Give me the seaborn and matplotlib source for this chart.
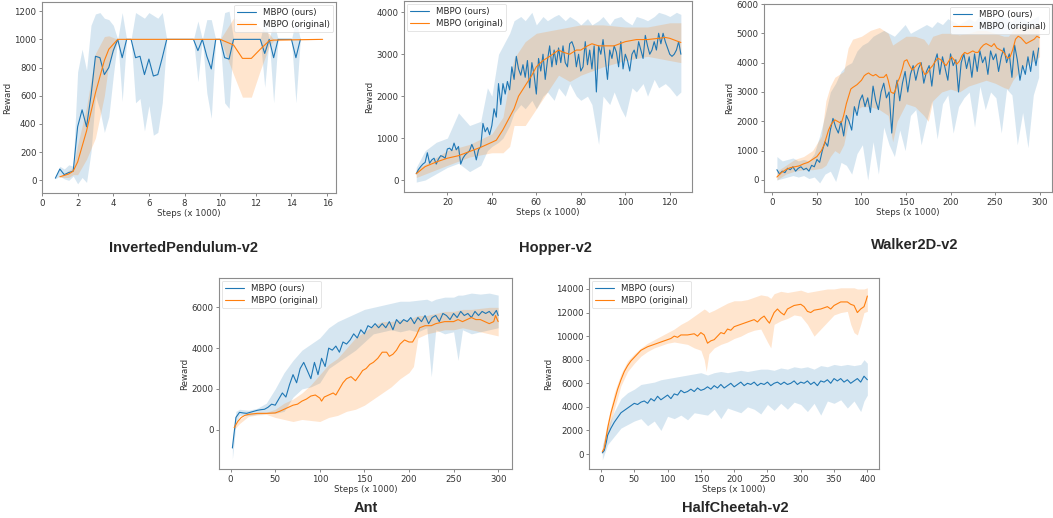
import numpy as np
import pandas as pd
import matplotlib
matplotlib.use("Agg")
import matplotlib.pyplot as plt
import seaborn as sns

# -----------------------------
# data
# -----------------------------
# InvertedPendulum-v2
ip_ours_x = [0.75, 1.0, 1.25, 1.5, 1.75, 2.0, 2.25, 2.5, 2.75, 3.0, 3.25, 3.5, 3.75, 4.0, 4.25, 4.5, 4.75,
             5.0, 5.25, 5.5, 5.75, 6.0, 6.25, 6.5, 6.75, 7.0, 8.5, 8.75, 9.0, 9.25, 9.5, 9.75, 10.0,
             10.25, 10.5, 10.75, 12.25, 12.5, 12.75, 13.0, 13.25, 14.0, 14.25, 14.5]
ip_ours_y = [15, 80, 40, 55, 65, 380, 500, 380, 600, 880, 870, 750, 800, 920, 1000, 870, 1000,
             1000, 870, 880, 750, 860, 740, 750, 870, 1000, 1000, 920, 1000, 880, 790, 1000, 1000,
             870, 860, 1000, 1000, 900, 1000, 870, 1000, 1000, 870, 1000]
ip_ours_lo = [10, 30, 10, 0, 30, -25, 20, -15, 200, 600, 500, 340, 450, 740, 1000, 560, 1000,
              1000, 550, 580, 350, 530, 320, 340, 550, 1000, 1000, 700, 1000, 620, 440, 1000, 1000,
              550, 510, 1000, 1000, 660, 1000, 550, 1000, 1000, 550, 1000]
ip_ours_hi = [20, 100, 80, 110, 100, 770, 930, 780, 1100, 1180, 1190, 1150, 1140, 1100, 1000, 1190, 1000,
              1000, 1190, 1170, 1150, 1190, 1170, 1150, 1190, 1000, 1000, 1130, 1000, 1140, 1140, 1000, 1000,
              1190, 1200, 1000, 1000, 1140, 1000, 1130, 1000, 1000, 1140, 1000]
ip_orig_x = [1.0, 1.5, 1.75, 2.0, 2.5, 3.0, 3.5, 3.75, 4.25, 10.0, 10.75, 11.25, 11.75, 12.25, 12.75, 13.0, 15.75]
ip_orig_y = [25, 45, 65, 130, 350, 620, 850, 930, 1000, 1000, 960, 865, 865, 930, 990, 995, 1000]
ip_orig_lo = [20, 20, 40, 40, 150, 300, 600, 830, 1000, 1000, 750, 590, 590, 780, 950, 990, 1000]
ip_orig_hi = [30, 70, 90, 250, 520, 900, 1020, 1025, 1000, 1000, 1150, 1130, 1130, 1080, 1040, 1000, 1000]

# Hopper-v2 (ours logged every 1k steps from 6k to 125k)
hop_ours_x = list(range(6, 126))
hop_ours_y = [150, 250, 320, 380, 420, 650, 400, 480, 520, 380, 500, 580, 560, 520, 740, 760, 700, 880, 720, 800,
              380, 520, 600, 650, 700, 850, 720, 480, 720, 800, 1350, 1150, 1250, 1080, 1300, 1700, 1500, 2300, 1800, 2300,
              2050, 2350, 2150, 2700, 2400, 2950, 2650, 2500, 2750, 2450, 2850, 2200, 2800, 2500, 2050, 2900, 2600, 3000, 2400, 2850,
              3200, 2700, 3100, 2750, 3150, 2800, 3200, 2800, 2700, 3250, 3300, 3150, 2700, 3000, 2600, 2700, 3300, 2750, 3100, 2650,
              3200, 2100, 3200, 3000, 3350, 2900, 2400, 3100, 2900, 3200, 3050, 2700, 3300, 2650, 3000, 2850, 2600, 3000, 3100, 2900,
              3300, 3100, 2900, 3450, 3200, 3000, 3100, 3300, 3100, 3500, 3250, 3500, 3300, 3150, 3000, 2950, 3000, 3100, 3300, 3000]
hop_ours_bx = [6, 10, 15, 20, 25, 30, 35, 38, 40, 43, 45, 48, 50, 53, 55, 58, 60, 63, 65, 68, 70, 73, 75, 78, 80,
               83, 85, 88, 90, 93, 95, 98, 100, 103, 105, 108, 110, 113, 115, 118, 120, 123, 125]
hop_ours_lo = [-50, 0, 150, 300, 400, 200, 350, 700, 800, 900, 1000, 1300, 1600, 1800, 1700, 1900, 1700, 2000, 2100, 1900,
               2200, 2000, 2300, 2000, 1900, 2000, 1800, 850, 2000, 1800, 2100, 1700, 1500, 2200, 2100, 2300, 2000, 2400,
               2200, 2300, 2200, 2000, 2100]
hop_ours_hi = [300, 700, 900, 1000, 1600, 1300, 1400, 2200, 2000, 3000, 3200, 3500, 3800, 3900, 3800, 4000, 3700, 3900,
               3800, 3900, 3950, 3800, 3900, 3800, 3700, 3850, 3700, 3800, 3900, 3700, 3850, 3900, 3800, 3700, 3900, 3850,
               3800, 3900, 4000, 3950, 3900, 4000, 3950]
hop_orig_x = [6, 10, 15, 20, 25, 30, 35, 40, 42, 45, 48, 50, 52, 55, 58, 60, 63, 66, 70, 72, 75, 78, 80, 83, 85,
              88, 90, 95, 100, 105, 110, 115, 118, 120, 125]
hop_orig_y = [150, 320, 430, 520, 580, 680, 780, 900, 950, 1200, 1500, 1700, 2000, 2250, 2500, 2700, 2850, 2950, 3100,
              3050, 3000, 3100, 3100, 3200, 3250, 3200, 3200, 3200, 3300, 3350, 3350, 3380, 3400, 3380, 3280]
hop_orig_bx = [6, 20, 30, 40, 45, 48, 50, 55, 60, 65, 70, 75, 80, 90, 100, 110, 120, 125]
hop_orig_lo = [60, 350, 550, 650, 650, 800, 1300, 1300, 1700, 2100, 2500, 2350, 2500, 2700, 2850, 2950, 2850, 2800]
hop_orig_hi = [250, 700, 850, 1100, 1500, 2400, 2900, 3300, 3500, 3550, 3600, 3650, 3700, 3700, 3650, 3650, 3750, 3750]

# Walker2D-v2
wk_ours_x = list(range(5, 300, 3))
wk_ours_y = [350, 200, 300, 250, 400, 350, 450, 300, 400, 450, 350, 400, 300, 500, 450, 700, 600, 1000, 1300, 1150,
             1700, 2100, 1800, 1600, 2000, 1500, 2200, 2000, 1700, 2500, 2200, 2700, 2900, 2500, 2800, 2300, 3200, 2700,
             2400, 3000, 3300, 2800, 3000, 1600, 2900, 3400, 2700, 3300, 3700, 3000, 3600, 3900, 3400, 3800, 4000, 3300,
             3700, 3900, 3200, 4000, 4300, 3600, 4200, 3800, 3400, 4300, 3900, 4100, 3000, 4000, 4300, 3800, 4200, 3500,
             4300, 3700, 4400, 4000, 4200, 3600, 4400, 4100, 4300, 3700, 4200, 4500, 4000, 4300, 3500, 4600, 4100, 3400,
             3900, 3600, 4200, 3700, 4400, 3900, 4500]
wk_ours_bx = list(range(5, 300, 6))
wk_ours_lo = [0, 50, 100, 150, 100, 150, 50, 100, -100, 200, 300, -50, 600, 500, 200, 900, 1200, 0, 1300, 200, 1800,
              1200, 800, 1700, 1000, 2200, 2400, 1200, 2000, 2700, 1400, 2600, 2900, 1600, 2500, 2800, 3000, 1800, 3200,
              2400, 3000, 2800, 1600, 3100, 2900, 1200, 2300, 1100, 2900, 3500]
wk_ours_hi = [800, 650, 700, 750, 650, 700, 650, 900, 1500, 2200, 3000, 3300, 3700, 3900, 4000, 4400, 4600, 4700, 4900,
              5000, 5100, 5000, 4900, 5100, 5300, 5000, 5100, 5200, 5300, 5200, 5400, 5300, 5500, 5400, 5300, 5400, 5500,
              5400, 5600, 5500, 5400, 5500, 5600, 5500, 5400, 5700, 5500, 5400, 5500, 5600]
wk_orig_x = [5, 10, 15, 20, 25, 30, 35, 40, 45, 50, 55, 58, 60, 63, 66, 70, 73, 76, 78, 80, 83, 86, 88, 90, 95, 100,
             103, 105, 108, 110, 113, 116, 120, 125, 128, 130, 133, 136, 138, 140, 143, 146, 148, 151, 154, 157, 160,
             163, 166, 168, 171, 174, 177, 180, 183, 186, 189, 192, 195, 198, 201, 204, 207, 210, 213, 216, 219, 222,
             225, 228, 231, 234, 237, 240, 243, 246, 249, 252, 255, 258, 261, 264, 267, 270, 273, 276, 279, 282, 285,
             288, 291, 294, 297, 300]
wk_orig_y = [100, 250, 350, 420, 450, 480, 550, 600, 700, 800, 1000, 1200, 1400, 1700, 1900, 2050, 2000, 1950, 2000,
             2200, 2600, 2900, 3100, 3150, 3250, 3400, 3550, 3600, 3650, 3600, 3550, 3600, 3500, 3500, 3600, 3400, 3000,
             2950, 3050, 3300, 3500, 3800, 4050, 4100, 3900, 3750, 3850, 3950, 4000, 3800, 3600, 3650, 3800, 3900, 4050,
             4150, 4100, 4000, 3900, 4050, 4200, 4100, 3950, 4050, 4250, 4350, 4300, 4350, 4400, 4350, 4350, 4500, 4600,
             4650, 4600, 4550, 4650, 4500, 4450, 4400, 4300, 4150, 4200, 4450, 4800, 4900, 4850, 4750, 4650, 4700, 4750,
             4800, 4900, 4850]
wk_orig_bx = [5, 15, 25, 35, 45, 55, 60, 65, 70, 75, 80, 85, 90, 100, 110, 120, 130, 135, 140, 150, 160, 170, 175,
              180, 190, 200, 210, 220, 230, 240, 250, 260, 265, 270, 280, 290, 300]
wk_orig_lo = [0, 200, 300, 350, 350, 400, 500, 800, 1000, 900, 1200, 1900, 2300, 2500, 2500, 2400, 2200, 1300, 2000,
              2600, 2500, 2200, 2000, 2700, 3000, 3100, 3000, 3200, 3300, 3400, 3300, 3150, 3100, 3400, 3800, 4000, 4200]
wk_orig_hi = [300, 500, 700, 800, 1000, 1500, 2700, 3200, 3500, 3600, 3700, 4500, 4800, 4900, 5100, 5200, 5000, 4600,
              4700, 4900, 4900, 4800, 4600, 4900, 5000, 5000, 4950, 5000, 5100, 5100, 5000, 4900, 4900, 5100, 5300, 5200, 5300]

# Ant
ant_ours_x = [2] + list(range(6, 300, 4)) + [300]
ant_ours_y = [-900, 600, 850, 820, 800, 850, 900, 950, 980, 1000, 1100, 1250, 1200, 1500, 1800, 1600, 2200, 2700, 2300,
              3000, 3300, 2900, 2500, 3300, 2700, 3500, 3100, 4000, 3900, 4100, 3800, 4300, 4200, 4400, 4700, 4500, 4900,
              4700, 5100, 5000, 5200, 5000, 5200, 5000, 5300, 4900, 5400, 5200, 5400, 5300, 5500, 5200, 5500, 5300, 5600,
              5200, 5500, 5600, 5300, 5700, 5600, 5400, 5700, 5500, 5800, 5600, 5700, 5500, 5800, 5600, 5800, 5700, 5800,
              5600, 5850, 5600]
ant_ours_bx = [2, 6, 10, 20, 30, 40, 50, 60, 70, 80, 90, 100, 110, 120, 130, 140, 150, 160, 170, 180, 190, 200, 210,
               220, 225, 230, 240, 250, 255, 260, 270, 280, 290, 300]
ant_ours_lo = [-1450, 300, 700, 700, 750, 800, 800, 900, 1600, 2000, 2100, 2300, 3000, 3300, 3600, 3900, 4300, 4700,
               4800, 4900, 4800, 4900, 4800, 5000, 2600, 4900, 4700, 4800, 3400, 4900, 4700, 4800, 4900, 5000]
ant_ours_hi = [-500, 900, 1000, 950, 1050, 1300, 2000, 2800, 3400, 3900, 4200, 4500, 5000, 5300, 5500, 5700, 5900, 6000,
               6100, 6200, 6300, 6300, 6350, 6400, 6300, 6400, 6500, 6500, 6600, 6600, 6700, 6650, 6700, 6600]
ant_orig_x = [4, 8, 12, 16, 20, 30, 40, 50, 55, 60, 65, 70, 75, 80, 85, 90, 95, 100, 102, 105, 110, 115, 118, 122, 126,
              130, 135, 140, 145, 148, 152, 156, 160, 165, 170, 175, 178, 182, 186, 190, 195, 200, 204, 208, 212, 218,
              225, 230, 240, 250, 255, 260, 265, 270, 275, 280, 285, 290, 295, 297, 300]
ant_orig_y = [100, 400, 600, 700, 750, 800, 800, 820, 900, 1000, 1100, 1200, 1250, 1400, 1500, 1650, 1700, 1550, 1400,
              1600, 1700, 1800, 1700, 2000, 2300, 2500, 2600, 2400, 2700, 2900, 3000, 3200, 3300, 3500, 3800, 3800, 3600,
              3700, 3900, 4200, 4400, 4300, 4300, 4600, 5000, 5100, 5100, 5200, 5300, 5300, 5400, 5300, 5400, 5500, 5400,
              5400, 5300, 5200, 5300, 5600, 5300]
ant_orig_bx = [4, 10, 20, 30, 40, 50, 60, 70, 80, 90, 100, 110, 120, 130, 140, 150, 160, 170, 180, 190, 200, 205, 210,
               220, 230, 240, 250, 260, 270, 280, 290, 300]
ant_orig_lo = [0, 300, 650, 720, 750, 600, 500, 400, 500, 450, 400, 600, 700, 900, 1000, 1200, 1500, 1800, 2100, 2500,
               2800, 3100, 4500, 4700, 4800, 4900, 4900, 5000, 4900, 4800, 4700, 4600]
ant_orig_hi = [200, 500, 800, 850, 850, 1000, 1300, 1500, 1800, 2200, 2700, 3200, 3500, 4000, 4500, 4800, 5100, 5300,
               5300, 5400, 5400, 5500, 5600, 5600, 5700, 5800, 5800, 5900, 5900, 5950, 6000, 6000]

# HalfCheetah-v2
hc_ours_x = [2, 5, 8] + list(range(10, 401, 5))
hc_ours_y = [100, 300, 1000, 1600, 2200, 2700, 3100, 3500, 3700, 3900, 4100, 4300, 4200, 4400, 4500, 4300, 4700, 4500,
             4900, 4600, 4800, 5000, 4700, 5100, 5000, 5400, 5200, 5300, 5500, 5300, 5600, 5400, 5500, 5700, 5500, 5800,
             5600, 5900, 5600, 5800, 6000, 5700, 5900, 6100, 5800, 6000, 5900, 6100, 5800, 6000, 5900, 6100, 5800, 6000,
             6100, 5900, 6100, 5900, 6000, 6200, 5900, 6100, 6000, 6200, 5900, 6100, 5800, 6200, 6100, 6300, 6000, 6400,
             6200, 6400, 6100, 6300, 6000, 6200, 6400, 6100, 6600, 6300]
hc_ours_bx = [2] + list(range(10, 391, 10)) + [395, 400]
hc_ours_lo = [-500, 800, 1500, 2200, 2500, 2800, 3000, 2400, 2800, 2000, 3200, 3000, 3300, 2900, 3500, 3400, 3300, 3800,
              3000, 3900, 3700, 3500, 4000, 3800, 3400, 4200, 3700, 4300, 3800, 4400, 4200, 3600, 4300, 3300, 4500, 4300,
              4600, 3900, 4500, 3600, 4500, 5000]
hc_ours_hi = [700, 2300, 3600, 4700, 5200, 5500, 5900, 6000, 6100, 6300, 6400, 6500, 6600, 6700, 6800, 6900, 6700, 6900,
              7000, 6900, 7000, 7100, 7000, 7100, 7200, 7200, 7100, 7300, 7200, 7400, 7300, 7400, 7200, 7500, 7400, 7600,
              7500, 7600, 7500, 7600, 8000, 7700]
hc_orig_x = [2, 5, 8, 10, 15, 20, 25, 30, 35, 40, 45, 50, 55, 60, 70, 80, 90, 100, 105, 110, 115, 120, 130, 140, 145,
             150, 155, 160, 165, 170, 175, 180, 185, 190, 195, 200, 210, 220, 230, 235, 240, 245, 250, 253, 256, 260,
             265, 270, 275, 280, 290, 300, 305, 310, 315, 320, 330, 340, 345, 350, 360, 370, 375, 380, 385, 390, 395,
             398, 400]
hc_orig_y = [200, 500, 1500, 2200, 3500, 4500, 5500, 6300, 7000, 7500, 7900, 8200, 8500, 8800, 9100, 9300, 9500, 9700,
             9800, 10000, 9900, 10100, 10100, 10200, 10000, 10300, 10100, 9400, 9600, 9700, 10000, 10300, 10200, 10600,
             10500, 10800, 11000, 11200, 11400, 11200, 11500, 11700, 11300, 11100, 11500, 12000, 12300, 12000, 11800,
             12300, 12600, 12700, 12500, 12100, 12000, 12200, 12300, 12500, 12300, 12600, 12900, 12900, 12700, 12600,
             12000, 12300, 12500, 13000, 13400]
hc_orig_bx = [2, 10, 20, 30, 40, 50, 60, 70, 80, 90, 100, 110, 120, 130, 140, 150, 155, 158, 162, 170, 180, 190, 200,
              210, 220, 230, 240, 250, 255, 260, 270, 280, 290, 300, 310, 320, 330, 340, 350, 360, 370, 375, 380, 385,
              390, 395, 400]
hc_orig_lo = [0, 1600, 3800, 5800, 7000, 7700, 8300, 8700, 9000, 9200, 9400, 9500, 9400, 9300, 9000, 8800, 8000, 7000,
              8500, 9000, 9300, 9500, 9800, 10000, 10300, 10500, 10600, 9500, 9000, 11000, 11300, 11500, 11800, 11700,
              11000, 10000, 10600, 11200, 11800, 12000, 12100, 11000, 10300, 10100, 11000, 12000, 12100]
hc_orig_hi = [500, 2800, 5200, 6800, 7900, 8500, 9000, 9400, 9700, 10000, 10300, 10600, 11000, 11300, 11700, 12100,
              12300, 12200, 12000, 12200, 12500, 12800, 13000, 13000, 13100, 13300, 13500, 13400, 13200, 13600, 13800,
              13700, 13800, 13900, 13700, 13800, 13900, 14000, 14000, 14100, 14100, 14100, 14100, 14000, 14000, 14000, 14100]

# -----------------------------
# style
# -----------------------------
sns.set_style("ticks")
plt.rcParams['font.family'] = ['DejaVu Sans']
plt.rcParams.update({
    'axes.edgecolor': '0.55',
    'axes.linewidth': 0.8,
    'xtick.color': '0.45',
    'ytick.color': '0.45',
    'xtick.labelcolor': '0.2',
    'ytick.labelcolor': '0.2',
    'xtick.major.size': 2.5,
    'ytick.major.size': 2.5,
    'xtick.major.width': 0.6,
    'ytick.major.width': 0.6,
    'xtick.labelsize': 6.2,
    'ytick.labelsize': 6.2,
    'axes.labelsize': 6.2,
    'axes.labelcolor': '0.2',
    'legend.fontsize': 6.2,
})

BLUE = '#1f77b4'
ORANGE = '#ff7f0e'

W, H = 1053, 518
fig = plt.figure(figsize=(W / 100, H / 100), dpi=100)


def make_ax(left, top, right, bottom):
    return fig.add_axes([left / W, 1 - bottom / H, (right - left) / W, (bottom - top) / H])


def draw(ax, ours, orig, xlim, ylim, xticks, yticks, loc, title, tx, ty):
    ox, oy, obx, olo, ohi = ours
    gx, gy, gbx, glo, ghi = orig
    ax.fill_between(obx, olo, ohi, color=BLUE, alpha=0.18, linewidth=0)
    ax.fill_between(gbx, glo, ghi, color=ORANGE, alpha=0.2, linewidth=0)
    sns.lineplot(x=ox, y=oy, ax=ax, color=BLUE, linewidth=0.8, label='MBPO (ours)')
    sns.lineplot(x=gx, y=gy, ax=ax, color=ORANGE, linewidth=0.8, label='MBPO (original)')
    ax.set_xlim(*xlim)
    ax.set_ylim(*ylim)
    ax.set_xticks(xticks)
    ax.set_yticks(yticks)
    ax.set_xlabel('Steps (x 1000)', labelpad=1)
    ax.set_ylabel('Reward', labelpad=2)
    ax.tick_params(pad=1.5)
    leg = ax.legend(loc=loc, frameon=True, borderaxespad=0.3, handlelength=2.2,
                    borderpad=0.4, labelspacing=0.3, handletextpad=0.8)
    leg.get_frame().set_edgecolor('0.85')
    leg.get_frame().set_linewidth(0.6)
    fig.text(tx / W, 1 - ty / H, title, ha='center', va='center',
             family='Liberation Sans', fontweight='bold', fontsize=10.5)


ax1 = make_ax(42, 2, 336, 193)
draw(ax1, (ip_ours_x, ip_ours_y, ip_ours_x, ip_ours_lo, ip_ours_hi),
     (ip_orig_x, ip_orig_y, ip_orig_x, ip_orig_lo, ip_orig_hi),
     (0, 16.5), (-90, 1265), range(0, 17, 2), range(0, 1201, 200), 'upper right',
     'InvertedPendulum-v2', 183, 248)

ax2 = make_ax(404, 1, 692, 192)
draw(ax2, (hop_ours_x, hop_ours_y, hop_ours_bx, hop_ours_lo, hop_ours_hi),
     (hop_orig_x, hop_orig_y, hop_orig_bx, hop_orig_lo, hop_orig_hi),
     (0.5, 130), (-286, 4270), range(20, 121, 20), range(0, 4001, 1000), 'upper left',
     'Hopper-v2', 555, 248)

ax3 = make_ax(764, 4, 1052, 192)
draw(ax3, (wk_ours_x, wk_ours_y, wk_ours_bx, wk_ours_lo, wk_ours_hi),
     (wk_orig_x, wk_orig_y, wk_orig_bx, wk_orig_lo, wk_orig_hi),
     (-9.5, 314), (-410, 6000), range(0, 301, 50), range(0, 6001, 1000), 'upper right',
     'Walker2D-v2', 915, 245)

ax4 = make_ax(219, 278, 512, 469)
draw(ax4, (ant_ours_x, ant_ours_y, ant_ours_bx, ant_ours_lo, ant_ours_hi),
     (ant_orig_x, ant_orig_y, ant_orig_bx, ant_orig_lo, ant_orig_hi),
     (-13, 315.5), (-1930, 7440), range(0, 301, 50), range(0, 6001, 2000), 'upper left',
     'Ant', 366, 508)

ax5 = make_ax(589, 278, 879, 469)
draw(ax5, (hc_ours_x, hc_ours_y, hc_ours_bx, hc_ours_lo, hc_ours_hi),
     (hc_orig_x, hc_orig_y, hc_orig_bx, hc_orig_lo, hc_orig_hi),
     (-18, 417.5), (-1270, 14930), range(0, 401, 50), range(0, 14001, 2000), 'upper left',
     'HalfCheetah-v2', 735, 508)

fig.savefig('out.png', dpi=100, facecolor='white')
